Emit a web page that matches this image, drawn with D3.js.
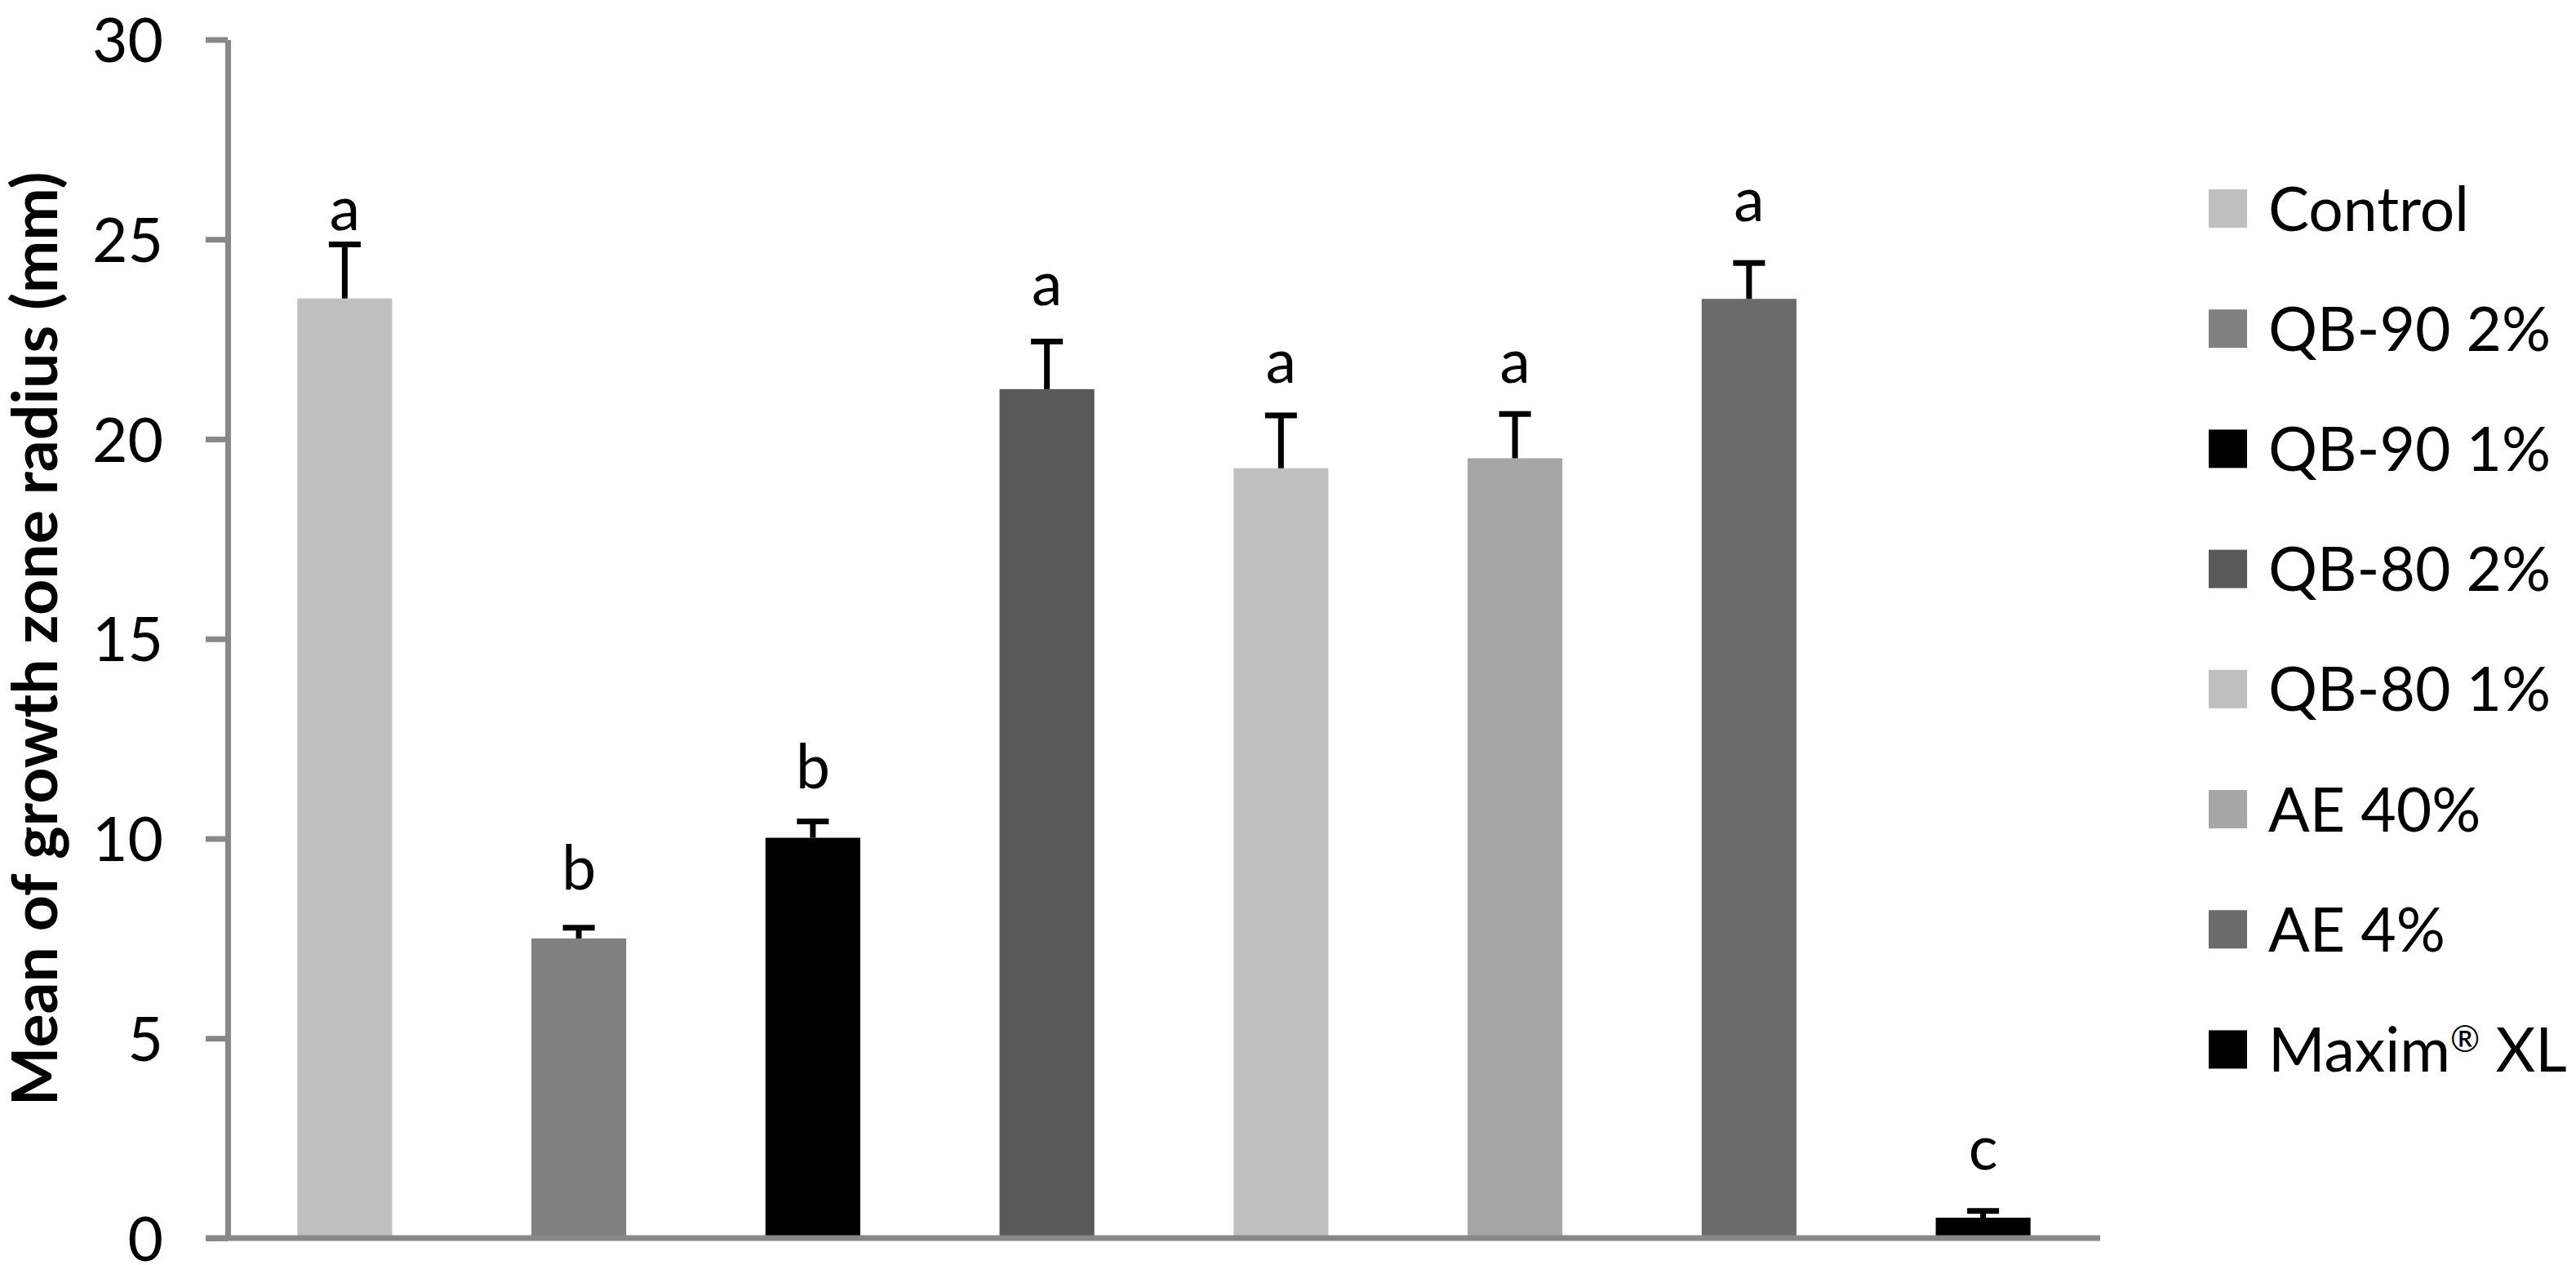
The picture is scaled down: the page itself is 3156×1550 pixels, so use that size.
<!DOCTYPE html>
<html>
<head>
<meta charset="utf-8">
<script src="https://cdn.jsdelivr.net/npm/d3@7"></script>
<style>
 body { margin: 0; background: #ffffff; }
 text { font-family: Lato, 'Open Sans', sans-serif; fill: #000000; }
</style>
</head>
<body>
<svg id="chart" width="3156" height="1550"></svg>
<script>
// treatments, in drawing order
var treatments = ['Control', 'QB-90 2%', 'QB-90 1%', 'QB-80 2%', 'QB-80 1%', 'AE 40%', 'AE 4%', 'Maxim\u00AE XL'];
// mean radius of growth zone (mm) and its error
var meanRadius = [23.52, 7.50, 10.02, 21.25, 19.27, 19.52, 23.51, 0.51];
var errRadius = [1.35, 0.27, 0.41, 1.19, 1.32, 1.11, 0.90, 0.17];
// letters of significance groups and the level (mm) where each one sits
var groupLetters = ['a', 'b', 'b', 'a', 'a', 'a', 'a', 'c'];
var letterLevel = [25.23, 8.72, 11.26, 23.35, 21.41, 21.41, 25.45, 1.72];
var barColors = ['#bfbfbf', '#808080', '#000000', '#595959', '#bfbfbf', '#a6a6a6', '#6b6b6b', '#000000'];
var yTicks = [0, 5, 10, 15, 20, 25, 30];
var yTitle = 'Mean of growth zone radius (mm)';

/* graphical parameters */
var graphicAtt = {
 left: 279, right: 2573, top: 48.5, bottom: 1517,
 fontSize: 75,
 axisColor: '#888888', axisWidth: 7,
 tickLen: 27,
 capWidth: 39, errWidth: 7,
 legendX: 2706, legendY: 255.5, legendStep: 147.2, keySize: 47, legendTextX: 2779
};

var svg = d3.select('#chart');
svg.append('rect').attr('width', 3156).attr('height', 1550).style('fill', '#ffffff');

var x = d3.scaleBand()
 .domain(treatments)
 .range([graphicAtt.left, graphicAtt.right])
 .paddingInner(0.595)
 .paddingOuter(0.2975);

var y = d3.scaleLinear()
 .domain([0, 30])
 .range([graphicAtt.bottom, graphicAtt.top]);

/* draws bars, error bars and letters above them */
function drawBars(svg, x, y, graphicAtt)
{
 var barLayer = svg.append('g').attr('class', 'barLayer');
 var data = treatments.map(function(t, i) {
  return {name: t, mean: meanRadius[i], err: errRadius[i], letter: groupLetters[i],
   level: letterLevel[i], color: barColors[i]};
 });

 barLayer.selectAll('rect.bar')
  .data(data)
  .enter().append('rect')
  .attr('class', 'bar')
  .attr('x', function(d) { return x(d.name); })
  .attr('y', function(d) { return y(d.mean); })
  .attr('width', x.bandwidth())
  .attr('height', function(d) { return y(0) - y(d.mean); })
  .style('fill', function(d) { return d.color; });

 // error bar: only the upper half is visible, as in the original
 var errs = barLayer.selectAll('g.err')
  .data(data)
  .enter().append('g')
  .attr('class', 'err');

 errs.append('line')
  .attr('x1', function(d) { return x(d.name) + x.bandwidth()/2; })
  .attr('x2', function(d) { return x(d.name) + x.bandwidth()/2; })
  .attr('y1', function(d) { return y(d.mean); })
  .attr('y2', function(d) { return y(d.mean + d.err); })
  .style('stroke', '#000000')
  .style('stroke-width', graphicAtt.errWidth);

 errs.append('line')
  .attr('x1', function(d) { return x(d.name) + x.bandwidth()/2 - graphicAtt.capWidth/2; })
  .attr('x2', function(d) { return x(d.name) + x.bandwidth()/2 + graphicAtt.capWidth/2; })
  .attr('y1', function(d) { return y(d.mean + d.err); })
  .attr('y2', function(d) { return y(d.mean + d.err); })
  .style('stroke', '#000000')
  .style('stroke-width', graphicAtt.errWidth);

 barLayer.selectAll('text.letter')
  .data(data)
  .enter().append('text')
  .attr('class', 'letter')
  .attr('x', function(d) { return x(d.name) + x.bandwidth()/2; })
  .attr('y', function(d) { return y(d.level); })
  .attr('text-anchor', 'middle')
  .attr('font-size', graphicAtt.fontSize)
  .text(function(d) { return d.letter; });
}

/* draws both axes and the y title */
function drawAxes(svg, x, y, graphicAtt)
{
 var yAxis = svg.append('g')
  .attr('transform', 'translate(' + graphicAtt.left + ',0)')
  .call(d3.axisLeft(y).tickValues(yTicks).tickSize(graphicAtt.tickLen).tickSizeOuter(0).tickPadding(52));

 yAxis.select('.domain')
  .style('stroke', graphicAtt.axisColor)
  .style('stroke-width', graphicAtt.axisWidth);
 yAxis.selectAll('.tick line')
  .style('stroke', graphicAtt.axisColor)
  .style('stroke-width', graphicAtt.axisWidth);
 yAxis.selectAll('.tick text')
  .attr('font-size', graphicAtt.fontSize)
  .attr('font-family', 'Lato, sans-serif')
  .attr('dy', '0.36em')
  .style('fill', '#000000');

 // x axis line, starts at outer end of y ticks
 svg.append('line')
  .attr('x1', graphicAtt.left - graphicAtt.tickLen)
  .attr('x2', graphicAtt.right)
  .attr('y1', y(0))
  .attr('y2', y(0))
  .style('stroke', graphicAtt.axisColor)
  .style('stroke-width', graphicAtt.axisWidth);

 svg.append('text')
  .attr('transform', 'translate(70,' + (graphicAtt.top + graphicAtt.bottom)/2 + ') rotate(-90)')
  .attr('text-anchor', 'middle')
  .attr('font-size', 77)
  .attr('font-weight', 'bold')
  .text(yTitle);
}

/* legend on the right side; the (R) sign is written small and raised */
function drawLegend(svg, graphicAtt)
{
 var legend = svg.append('g').attr('class', 'legend');
 var rows = legend.selectAll('g.row')
  .data(treatments)
  .enter().append('g')
  .attr('class', 'row')
  .attr('transform', function(d, i) { return 'translate(0,' + (graphicAtt.legendY + i*graphicAtt.legendStep) + ')'; });

 rows.append('rect')
  .attr('x', graphicAtt.legendX)
  .attr('y', -graphicAtt.keySize/2)
  .attr('width', graphicAtt.keySize)
  .attr('height', graphicAtt.keySize)
  .style('fill', function(d, i) { return barColors[i]; });

 rows.append('text')
  .attr('x', graphicAtt.legendTextX)
  .attr('y', 27)
  .attr('font-size', graphicAtt.fontSize)
  .each(function(d) {
   var t = d3.select(this);
   var parts = d.split('\u00AE');
   t.append('tspan').text(parts[0]);
   if (parts.length > 1)
   {
    t.append('tspan').attr('font-size', 44).attr('dy', -24).text('\u00AE');
    t.append('tspan').attr('dy', 24).text(parts[1]);
   }
  });
}

drawBars(svg, x, y, graphicAtt);
drawAxes(svg, x, y, graphicAtt);
drawLegend(svg, graphicAtt);
</script>
</body>
</html>
